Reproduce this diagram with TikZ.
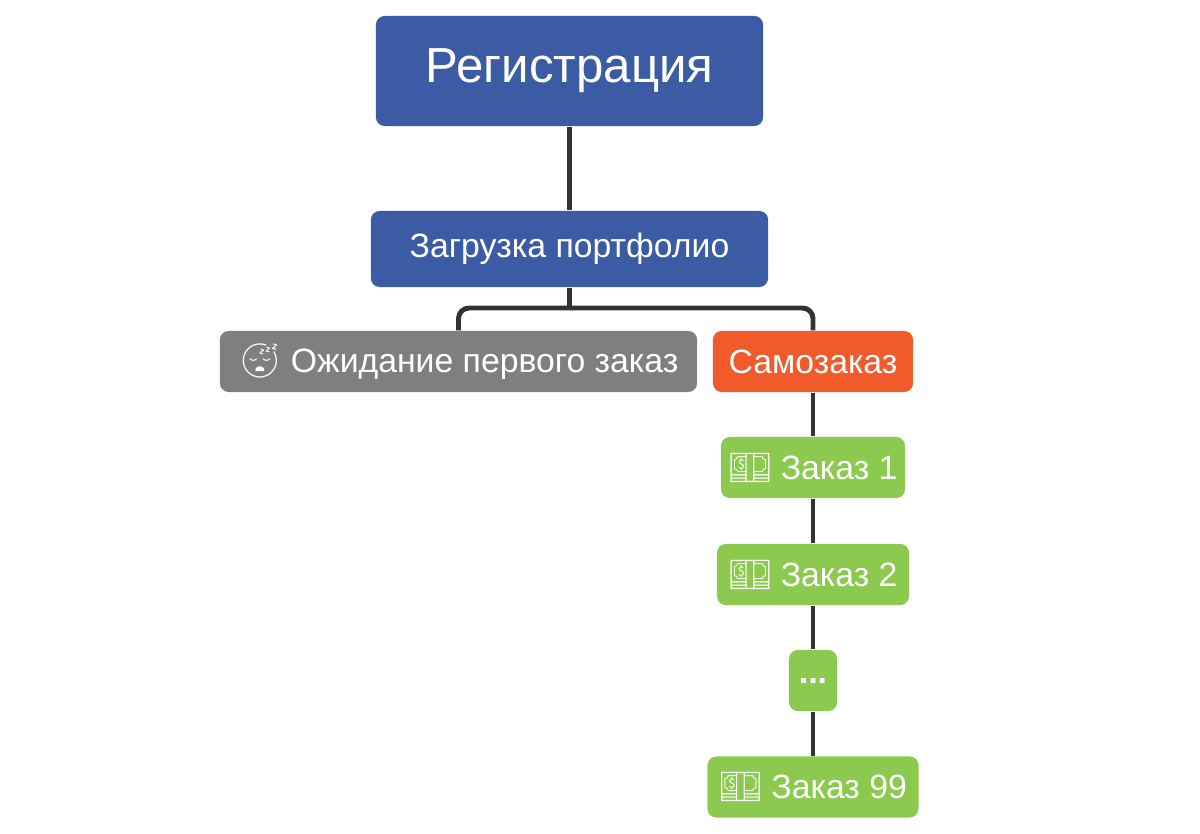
\documentclass[tikz,border=0pt]{standalone}
\usepackage{fontspec}
\setmainfont{Liberation Sans}
\newfontfamily\emojifont{Noto Emoji}
\usetikzlibrary{positioning}
\definecolor{regblue}{HTML}{3B5BA5}
\definecolor{waitgray}{HTML}{7F7F7F}
\definecolor{selforange}{HTML}{F15A2B}
\definecolor{ordergreen}{HTML}{8BC94F}
\definecolor{linkdark}{HTML}{333333}
\newcommand{\sleepy}{{\emojifont 😴}}
\newcommand{\money}{{\emojifont 💵}}
\begin{document}
\begin{tikzpicture}[x=0.01cm, y=-0.01cm,
    every node/.style={rectangle, rounded corners=2.5pt, text=white, inner sep=0pt, font=\fontsize{9.6}{12}\selectfont},
    blue box/.style={fill=regblue},
    wait box/.style={fill=waitgray},
    self box/.style={fill=selforange},
    order box/.style={fill=ordergreen, minimum height=0.61cm},
    link/.style={draw=linkdark, line width=1.4pt, rounded corners=3pt}]
    \useasboundingbox (0,0) rectangle (1200,834);
    % Top level
    \node[blue box, minimum width=3.87cm, minimum height=1.10cm, font=\fontsize{14}{17}\selectfont] (reg) at (569.5,71) {Регистрация};
    \node[blue box, minimum width=3.97cm, minimum height=0.76cm] (load) at (569.5,249) {Загрузка портфолио};

    % Branches
    \node[wait box, minimum width=4.77cm, minimum height=0.61cm] (wait) at (458.5,361.5) {\sleepy\ Ожидание первого заказ};
    \node[self box, minimum width=2.00cm, minimum height=0.61cm] (self) at (813,361.5) {Самозаказ};

    % Orders
    \node[order box, minimum width=1.84cm] (ord1) at (813,467.5) {\money\ Заказ 1};
    \node[order box, minimum width=1.92cm] (ord2) at (813,574.5) {\money\ Заказ 2};
    \node[order box, minimum width=0.48cm] (more) at (813,680.5) {\textbf{...}};
    \node[order box, minimum width=2.11cm] (ord99) at (813,787) {\money\ Заказ 99};

    % Edges
    \draw[link] (reg) -- (load);
    \coordinate (fork) at (569.5,308);
    \draw[link] (load.south) -- (fork);
    \draw[link] (wait.north) |- (fork) -| (self.north);
    \draw[link] (self) -- (ord1);
    \draw[link] (ord1) -- (ord2);
    \draw[link] (ord2) -- (more);
    \draw[link] (more) -- (ord99);
\end{tikzpicture}
\end{document}
